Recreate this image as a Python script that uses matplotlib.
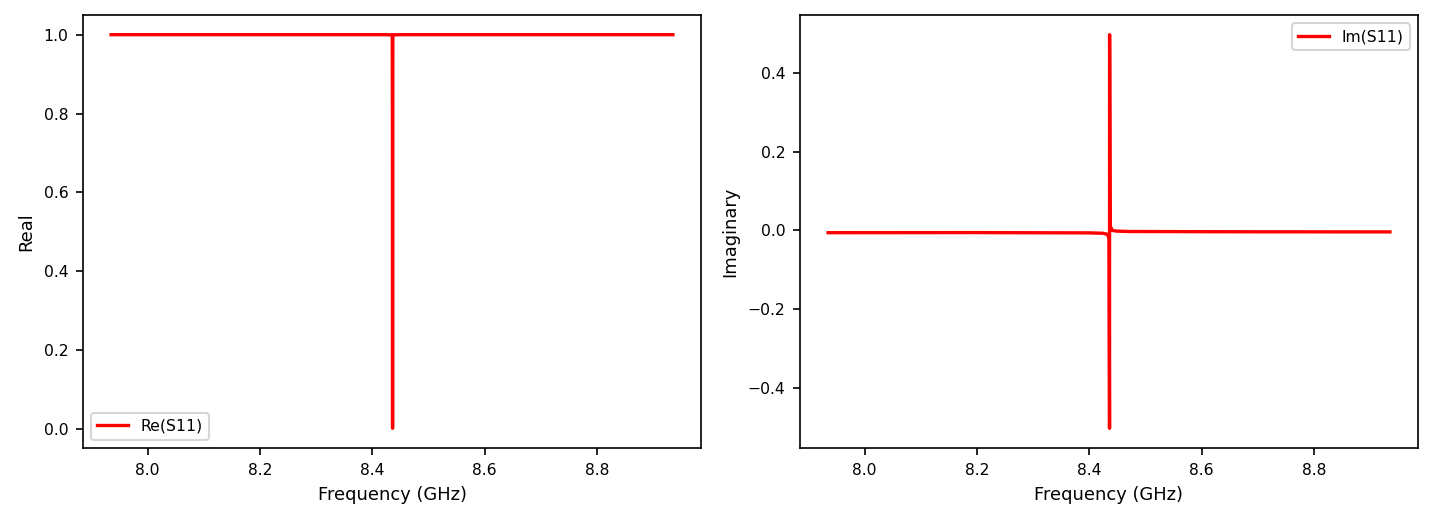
import matplotlib
matplotlib.use("Agg")
import matplotlib.pyplot as plt

# S11 (GHz, unitless)
freq_re = [7.935, 8.10, 8.30, 8.42, 8.4355, 8.43595, 8.43600, 8.43605, 8.4365, 8.45, 8.60, 8.80, 8.935]
s11_re = [1.0, 1.0, 1.0, 1.0, 0.9995, 0.5, 0.002, 0.5, 0.9995, 1.0, 1.0, 1.0, 1.0]

freq_im = [7.935, 8.20, 8.40, 8.424, 8.432, 8.435, 8.43595, 8.43605, 8.437, 8.4405,
           8.448, 8.47, 8.70, 8.935]
s11_im = [-0.006, -0.0058, -0.0065, -0.0075, -0.010, -0.02, -0.503, 0.497, 0.012, 0.0,
          -0.002, -0.003, -0.0038, -0.004]

W, H, DPI = 1433, 521, 150
fig = plt.figure(figsize=(W / DPI, H / DPI), dpi=DPI)
ax1 = fig.add_axes([83 / W, 73 / H, 618 / W, 433 / H])
ax2 = fig.add_axes([800 / W, 73 / H, 618 / W, 433 / H])

ax1.plot(freq_re, s11_re, color="red", linewidth=1.6, label="Re(S11)")
ax1.set_xlabel("Frequency (GHz)", fontsize=8.6)
ax1.set_ylabel("Real", fontsize=8.6)
ax1.legend(loc="lower left", fontsize=7.5)

ax2.plot(freq_im, s11_im, color="red", linewidth=1.6, label="Im(S11)")
ax2.set_xlabel("Frequency (GHz)", fontsize=8.6)
ax2.set_ylabel("Imaginary", fontsize=8.6)
ax2.legend(loc="upper right", fontsize=7.5)

for ax in (ax1, ax2):
    ax.tick_params(labelsize=7.5)

fig.savefig("out.png", dpi=DPI, facecolor="white")
